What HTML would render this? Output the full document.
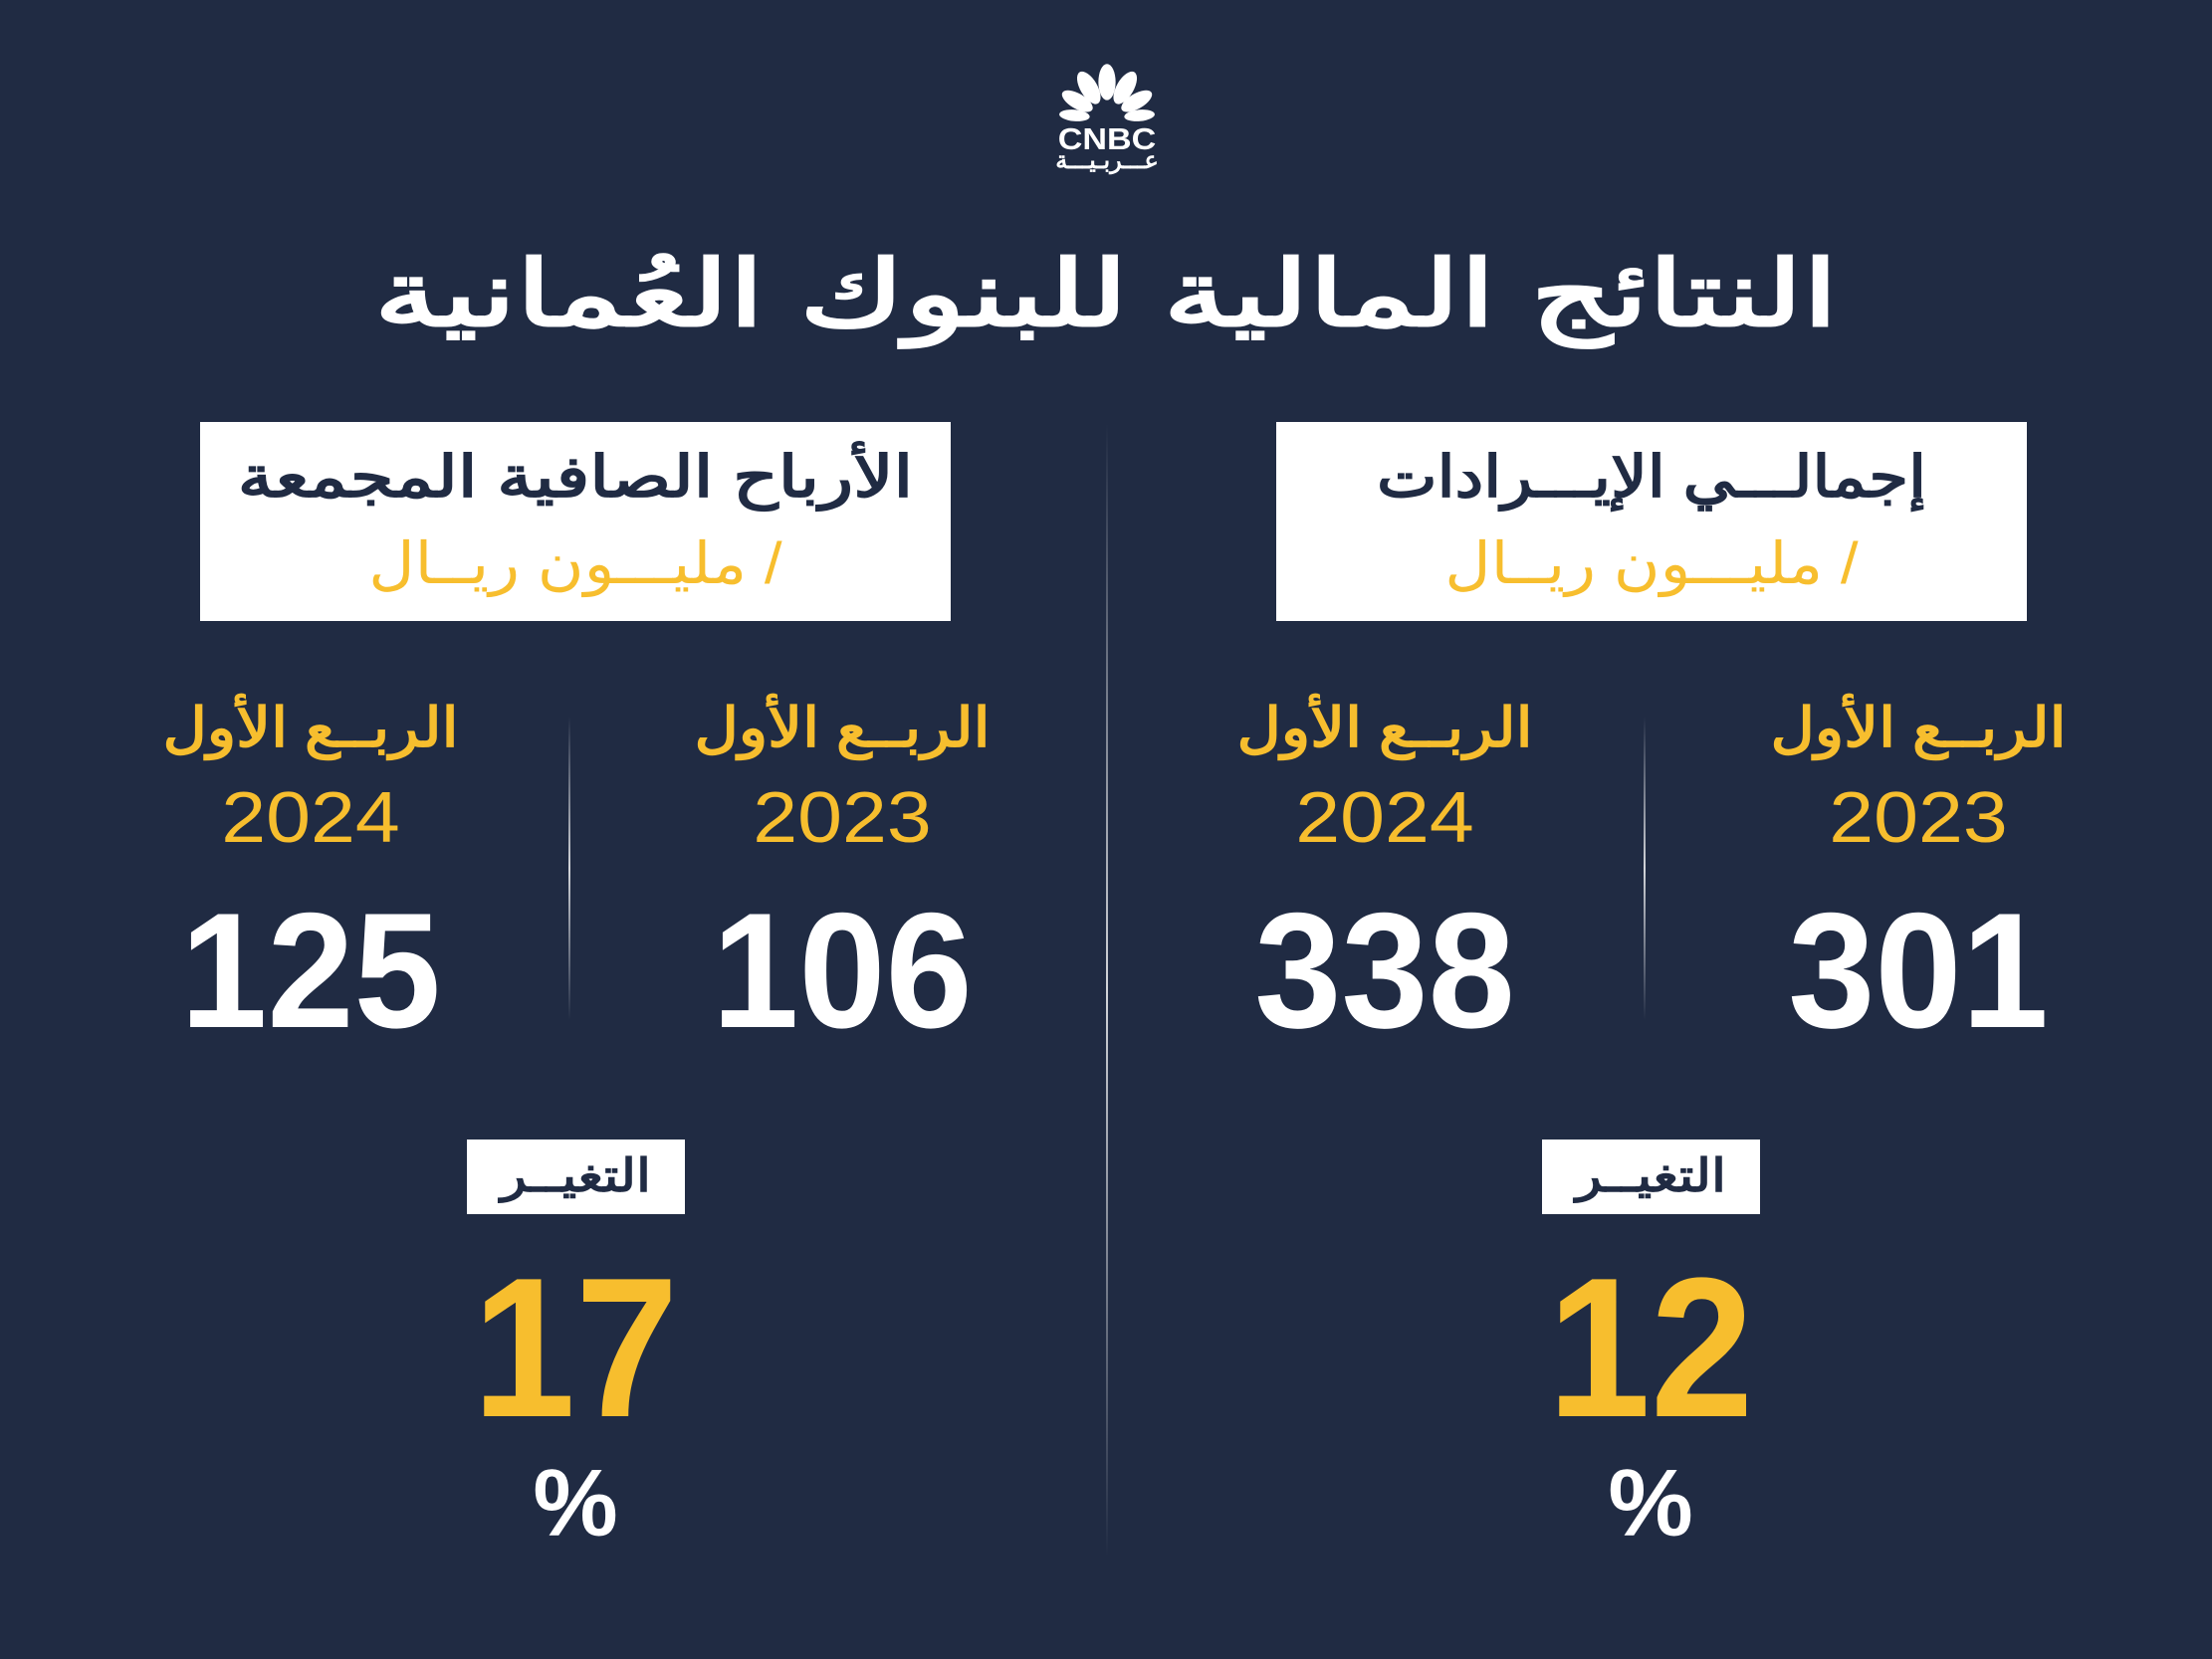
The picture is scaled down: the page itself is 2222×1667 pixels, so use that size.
<!DOCTYPE html>
<html><head><meta charset="utf-8"><style>
html,body{margin:0;padding:0}
body{width:2222px;height:1667px;background:#202b43;position:relative;overflow:hidden;font-family:"Liberation Sans","Noto Sans CJK SC",sans-serif}
.a{position:absolute;text-align:center;white-space:nowrap;line-height:1}
.box{position:absolute;background:#fff}
.y{color:#f7be2e}
.w{color:#fff}
.vl{position:absolute;width:2px;background:linear-gradient(to bottom,rgba(255,255,255,0),rgba(255,255,255,.8) 50%,rgba(255,255,255,0))}
.q{transform:scaleX(1.11)}
.yr{transform:scaleX(1.12)}
.n{transform:scaleX(0.95)}
</style></head><body>
<svg style="position:absolute;left:1064px;top:62px" width="96" height="62" viewBox="0 0 100 62">
<g fill="#fff">
<ellipse cx="50" cy="20" rx="9" ry="19"/>
<ellipse cx="31" cy="26" rx="9" ry="19" transform="rotate(-30 31 26)"/>
<ellipse cx="69" cy="26" rx="9" ry="19" transform="rotate(30 69 26)"/>
<ellipse cx="19" cy="40" rx="8" ry="18" transform="rotate(-60 19 40)"/>
<ellipse cx="81" cy="40" rx="8" ry="18" transform="rotate(60 81 40)"/>
<ellipse cx="16" cy="55" rx="6" ry="16" transform="rotate(-85 16 55)"/>
<ellipse cx="84" cy="55" rx="6" ry="16" transform="rotate(85 84 55)"/>
</g></svg>
<div class="a w" style="left:1012px;width:200px;top:124px;font-size:31px;font-weight:bold;transform:scaleX(1.1)">CNBC</div>
<div class="a w" style="left:1012px;width:200px;top:150px;font-size:24px;font-weight:bold" dir="rtl">عـــربـيـــة</div>

<div class="a w" dir="rtl" style="left:0;width:2222px;top:250px;font-size:92px;font-weight:bold;transform:scaleX(1.39)">النتائج المالية للبنوك العُمانية</div>

<div class="box" style="left:201px;top:424px;width:754px;height:200px"></div>
<div class="box" style="left:1282px;top:424px;width:754px;height:200px"></div>
<div class="a" dir="rtl" style="left:201px;width:754px;top:451px;font-size:58px;font-weight:bold;color:#202b43;transform:scaleX(1.22)">الأرباح الصافية المجمعة</div>
<div class="a y" dir="rtl" style="left:201px;width:754px;top:538px;font-size:58px;transform:scaleX(1.1)">/ مليـــون ريــال</div>
<div class="a" dir="rtl" style="left:1282px;width:754px;top:451px;font-size:58px;font-weight:bold;color:#202b43;transform:scaleX(1.11)">إجمالـــي الإيـــرادات</div>
<div class="a y" dir="rtl" style="left:1282px;width:754px;top:538px;font-size:58px;transform:scaleX(1.1)">/ مليـــون ريــال</div>

<div class="vl" style="left:1111px;top:425px;height:1140px"></div>
<div class="vl" style="left:571px;top:720px;height:305px"></div>
<div class="vl" style="left:1651px;top:720px;height:305px"></div>

<div class="a y q" dir="rtl" style="left:162px;width:300px;top:704px;font-size:55px;font-weight:bold">الربــع الأول</div>
<div class="a y q" dir="rtl" style="left:696px;width:300px;top:704px;font-size:55px;font-weight:bold">الربــع الأول</div>
<div class="a y q" dir="rtl" style="left:1241px;width:300px;top:704px;font-size:55px;font-weight:bold">الربــع الأول</div>
<div class="a y q" dir="rtl" style="left:1777px;width:300px;top:704px;font-size:55px;font-weight:bold">الربــع الأول</div>

<div class="a y yr" style="left:162px;width:300px;top:786px;font-size:72px">2024</div>
<div class="a y yr" style="left:696px;width:300px;top:786px;font-size:72px">2023</div>
<div class="a y yr" style="left:1241px;width:300px;top:786px;font-size:72px">2024</div>
<div class="a y yr" style="left:1777px;width:300px;top:786px;font-size:72px">2023</div>

<div class="a w n" style="left:112px;width:400px;top:893px;font-size:165px;font-weight:bold">125</div>
<div class="a w n" style="left:646px;width:400px;top:893px;font-size:165px;font-weight:bold">106</div>
<div class="a w n" style="left:1191px;width:400px;top:893px;font-size:165px;font-weight:bold">338</div>
<div class="a w n" style="left:1727px;width:400px;top:893px;font-size:165px;font-weight:bold">301</div>

<div class="box" style="left:469px;top:1145px;width:219px;height:75px"></div>
<div class="box" style="left:1549px;top:1145px;width:219px;height:75px"></div>
<div class="a" dir="rtl" style="left:469px;width:219px;top:1158px;font-size:46px;font-weight:bold;color:#202b43;transform:scaleX(1.17)">التغيــر</div>
<div class="a" dir="rtl" style="left:1549px;width:219px;top:1158px;font-size:46px;font-weight:bold;color:#202b43;transform:scaleX(1.17)">التغيــر</div>

<div class="a y" style="left:378px;width:400px;top:1255px;font-size:200px;font-weight:bold;transform:scaleX(0.93)">17</div>
<div class="a y" style="left:1458px;width:400px;top:1255px;font-size:200px;font-weight:bold;transform:scaleX(0.93)">12</div>
<div class="a w" style="left:478px;width:200px;top:1463px;font-size:96px;font-weight:bold">%</div>
<div class="a w" style="left:1558px;width:200px;top:1463px;font-size:96px;font-weight:bold">%</div>
</body></html>
